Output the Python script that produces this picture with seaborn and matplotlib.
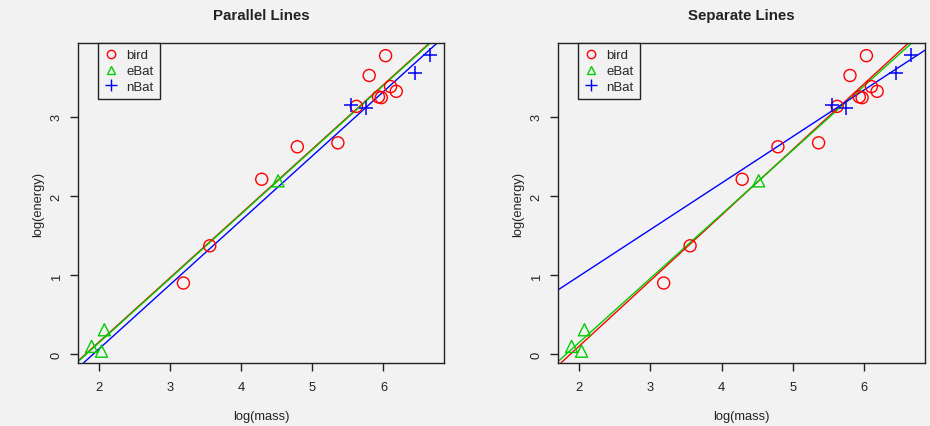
import numpy as np
import pandas as pd
import matplotlib
matplotlib.use("Agg")
import matplotlib.pyplot as plt
import seaborn as sns
from matplotlib.lines import Line2D

# log body mass and log in-flight energy expenditure, by group
bird_logmass = [3.19, 3.56, 4.29, 4.79, 5.36, 5.62, 5.80, 5.93, 5.97, 6.03, 6.10, 6.18]
bird_logenergy = [0.90, 1.37, 2.21, 2.62, 2.67, 3.13, 3.52, 3.25, 3.24, 3.77, 3.38, 3.32]
ebat_logmass = [1.90, 2.04, 2.08, 4.52]
ebat_logenergy = [0.10, 0.04, 0.31, 2.19]
nbat_logmass = [6.66, 6.44, 5.55, 5.75]
nbat_logenergy = [3.78, 3.55, 3.15, 3.11]

groups = ["bird", "eBat", "nBat"]
colors = {"bird": "#FF0000", "eBat": "#00CD00", "nBat": "#0000FF"}
markers = {"bird": "o", "eBat": "^", "nBat": "+"}
x_ticks = [2, 3, 4, 5, 6]
y_ticks = [0, 1, 2, 3]
titles = ["Parallel Lines", "Separate Lines"]

df = pd.DataFrame({
    "logmass": bird_logmass + ebat_logmass + nbat_logmass,
    "logenergy": bird_logenergy + ebat_logenergy + nbat_logenergy,
    "type": ["bird"] * len(bird_logmass) + ["eBat"] * len(ebat_logmass)
            + ["nBat"] * len(nbat_logmass),
})

# parallel-lines model: common slope, separate intercepts
X = np.column_stack([
    np.ones(len(df)), df["logmass"],
    (df["type"] == "eBat").astype(float), (df["type"] == "nBat").astype(float),
])
coef, *_ = np.linalg.lstsq(X, df["logenergy"].to_numpy(), rcond=None)
parallel = {
    "bird": (coef[0], coef[1]),
    "eBat": (coef[0] + coef[2], coef[1]),
    "nBat": (coef[0] + coef[3], coef[1]),
}
# separate-lines model: each group fitted on its own
separate = {}
for g in groups:
    sub = df[df["type"] == g]
    slope, intercept = np.polyfit(sub["logmass"], sub["logenergy"], 1)
    separate[g] = (intercept, slope)

bg = "#F2F2F2"
sns.set_theme(style="white")
plt.rcParams["font.family"] = ["Liberation Sans", "DejaVu Sans"]

fig = plt.figure(figsize=(9.3, 4.27), dpi=100, facecolor=bg)
ax_pos = [[0.0839, 0.1475, 0.3935, 0.7494], [0.6, 0.1475, 0.3946, 0.7494]]

xr = (df["logmass"].min(), df["logmass"].max())
yr = (df["logenergy"].min(), df["logenergy"].max())
xpad = 0.04 * (xr[1] - xr[0])
ypad = 0.04 * (yr[1] - yr[0])

for pos, title, fits in zip(ax_pos, titles, [parallel, separate]):
    ax = fig.add_axes(pos)
    ax.set_facecolor(bg)
    for g in groups:
        sub = df[df["type"] == g]
        if markers[g] == "+":
            sns.scatterplot(data=sub, x="logmass", y="logenergy", marker="+",
                            color=colors[g], s=110, linewidth=1.1, ax=ax, zorder=3)
        else:
            sns.scatterplot(data=sub, x="logmass", y="logenergy", marker=markers[g],
                            fc="none", ec=colors[g], s=75, linewidth=1.0, ax=ax, zorder=3)
    for g in groups:
        b0, b1 = fits[g]
        ax.axline((0, b0), slope=b1, color=colors[g], lw=1.0, zorder=2)
    ax.set_xlim(xr[0] - xpad, xr[1] + xpad)
    ax.set_ylim(yr[0] - ypad, yr[1] + ypad)
    ax.set_xticks(x_ticks)
    ax.set_yticks(y_ticks)
    ax.tick_params(axis="both", direction="out", length=6, width=1, color="#222222",
                   labelsize=9.3, colors="#222222", bottom=True, left=True)
    ax.tick_params(axis="x", pad=7)
    ax.tick_params(axis="y", pad=5, labelrotation=90)
    for t in ax.get_yticklabels():
        t.set_va("center")
    for sp in ax.spines.values():
        sp.set_visible(True)
        sp.set_color("#222222")
        sp.set_linewidth(1.0)
    ax.set_xlabel("log(mass)", fontsize=9.3, color="#222222", labelpad=12)
    ax.set_ylabel("log(energy)", fontsize=9.3, color="#222222", labelpad=5)
    ax.set_title(title, fontsize=10.8, fontweight="bold", color="#222222", pad=17)

    handles = [
        Line2D([], [], ls="none", marker="o", mfc="none", mec=colors["bird"], ms=6, mew=1.0),
        Line2D([], [], ls="none", marker="^", mfc="none", mec=colors["eBat"], ms=6, mew=1.0),
        Line2D([], [], ls="none", marker="+", color=colors["nBat"], ms=8, mew=1.0),
    ]
    leg = ax.legend(handles, groups, loc="upper left", bbox_to_anchor=(0.055, 1.0),
                    frameon=True, fancybox=False, framealpha=1, fontsize=9.5,
                    handlelength=1.0, handletextpad=0.7, borderpad=0.45,
                    labelspacing=0.28, borderaxespad=0)
    leg.get_frame().set_facecolor(bg)
    leg.get_frame().set_edgecolor("#222222")
    leg.get_frame().set_linewidth(1.0)

fig.savefig("out.png", dpi=100, facecolor=bg)
